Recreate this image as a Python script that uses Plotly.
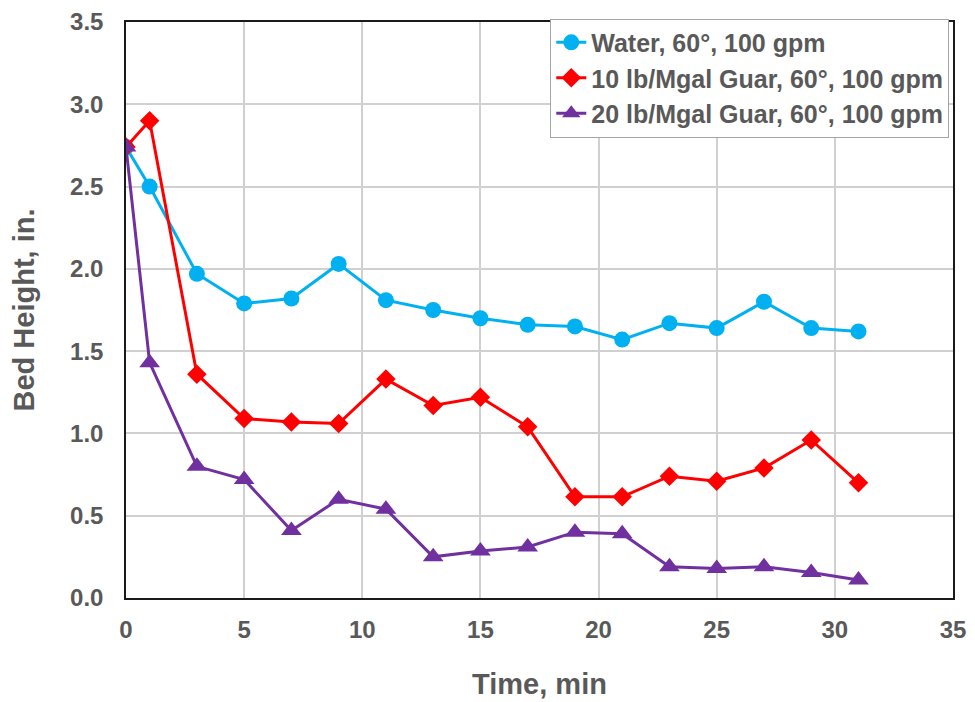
import plotly.graph_objects as go

# Sampling times (min)
time_min = [0, 1, 3, 5, 7, 9, 11, 13, 15, 17, 19, 21, 23, 25, 27, 29, 31]

# Bed height (in.) for each fluid
water = [2.74, 2.50, 1.97, 1.79, 1.82, 2.03, 1.81, 1.75, 1.70, 1.66, 1.65, 1.57, 1.67, 1.64, 1.80, 1.64, 1.62]
guar_10 = [2.74, 2.90, 1.36, 1.09, 1.07, 1.06, 1.33, 1.17, 1.22, 1.04, 0.615, 0.615, 0.74, 0.71, 0.79, 0.96, 0.70]
guar_20 = [2.74, 1.43, 0.80, 0.72, 0.41, 0.60, 0.54, 0.25, 0.285, 0.31, 0.40, 0.39, 0.19, 0.18, 0.19, 0.155, 0.11]

series_names = [
    "Water, 60°, 100 gpm",
    "10 lb/Mgal Guar, 60°, 100 gpm",
    "20 lb/Mgal Guar, 60°, 100 gpm",
]

x_ticks = [0, 5, 10, 15, 20, 25, 30, 35]
y_ticks = [0.0, 0.5, 1.0, 1.5, 2.0, 2.5, 3.0, 3.5]

FONT = "Liberation Sans, Arial, sans-serif"
TEXT_COLOR = "#595959"

fig = go.Figure()

fig.add_trace(go.Scatter(
    x=time_min, y=water, name=series_names[0], mode="lines+markers",
    line=dict(color="#00B0F0", width=3),
    marker=dict(symbol="circle", size=16, color="#00B0F0"),
))
fig.add_trace(go.Scatter(
    x=time_min, y=guar_10, name=series_names[1], mode="lines+markers",
    line=dict(color="#FF0000", width=3),
    marker=dict(symbol="diamond", size=15, color="#FF0000"),
))
fig.add_trace(go.Scatter(
    x=time_min, y=guar_20, name=series_names[2], mode="lines+markers",
    line=dict(color="#7030A0", width=3),
    marker=dict(symbol="triangle-up", size=18, color="#7030A0"),
))

axis_common = dict(
    showline=True, linecolor="#1a1a1a", linewidth=1.5, mirror=True,
    showgrid=True, gridcolor="#d0d0d0", gridwidth=1.5,
    zeroline=False, ticks="", automargin=False,
    tickfont=dict(family=FONT, size=24, color=TEXT_COLOR, weight="bold"),
)

fig.update_layout(
    width=975, height=702,
    margin=dict(l=126, r=22, t=22, b=104),
    paper_bgcolor="white", plot_bgcolor="white",
    font=dict(family=FONT, color=TEXT_COLOR),
    xaxis=dict(
        range=[0, 35], tickvals=x_ticks, ticktext=[str(v) for v in x_ticks],
        ticklabelstandoff=9,
        title=dict(text="Time, min", font=dict(family=FONT, size=29, color=TEXT_COLOR, weight="bold"), standoff=32),
        **axis_common,
    ),
    yaxis=dict(
        range=[0, 3.5], tickvals=y_ticks, ticktext=[f"{v:.1f}" for v in y_ticks],
        ticklabelstandoff=16,
        title=dict(text="Bed Height, in.", font=dict(family=FONT, size=29, color=TEXT_COLOR, weight="bold"), standoff=27),
        **axis_common,
    ),
    legend=dict(
        x=0.9955, xanchor="right", y=1.006, yanchor="top",
        bgcolor="white", bordercolor="#a6a6a6", borderwidth=1,
        font=dict(family=FONT, size=25, color=TEXT_COLOR, weight="bold"),
        itemwidth=30, tracegroupgap=0,
    ),
)

fig.write_html("out.html")
